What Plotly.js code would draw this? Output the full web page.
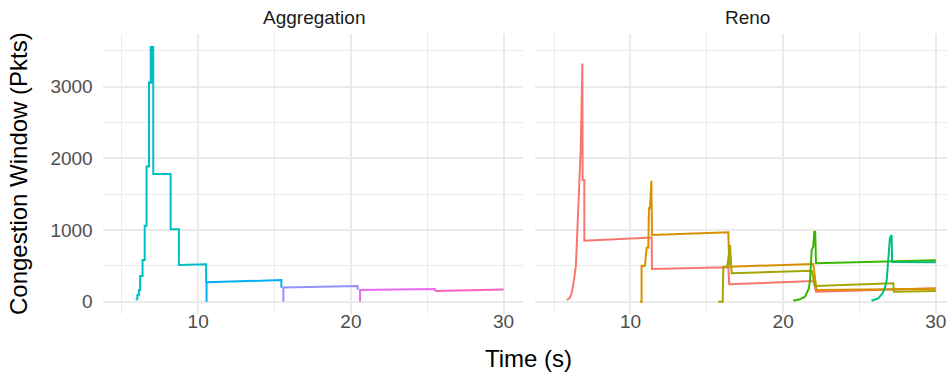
<!DOCTYPE html>
<html>
<head>
<meta charset="utf-8">
<script src="https://cdn.plot.ly/plotly-3.0.1.min.js"></script>
<style>html,body{margin:0;padding:0;background:#fff;}#chart{width:947px;height:377px;}</style>
</head>
<body>
<div id="chart"></div>
<script>
// ---------- Data (time in s, congestion window in packets) ----------
const panels = ["Aggregation", "Reno"];
const xTickVals = [10, 20, 30];
const yTickVals = [0, 1000, 2000, 3000];

// Aggregation panel flows
const agg1Time = [5.92, 6.02, 6.02, 6.12, 6.12, 6.2, 6.2, 6.36, 6.36, 6.5, 6.5, 6.62, 6.62, 6.78, 6.78, 6.89, 6.89, 6.95, 6.95, 6.98, 6.98, 7.06, 7.06, 8.2, 8.2, 8.74, 8.74, 10.52, 10.52];
const agg1Cwnd = [25, 40, 93, 93, 163, 163, 358, 358, 580, 580, 1060, 1060, 1885, 1885, 3060, 3060, 3550, 3550, 3050, 3050, 3550, 3550, 1780, 1780, 1010, 1010, 511, 523, 270];
const agg2Time = [10.55, 10.55, 15.45, 15.45];
const agg2Cwnd = [0, 270, 302, 195];
const agg3Time = [15.58, 15.58, 20.45, 20.45];
const agg3Cwnd = [0, 197, 219, 165];
const agg4Time = [20.6, 20.6, 25.5, 25.5];
const agg4Cwnd = [0, 163, 178, 150];
const agg5Time = [25.52, 30];
const agg5Cwnd = [150, 170];

// Reno panel flows
const reno1Time = [5.82, 6.0, 6.15, 6.22, 6.3, 6.43, 6.55, 6.65, 6.74, 6.81, 6.85, 6.87, 6.98, 6.98, 11.39, 11.41, 16.41, 16.47, 21.98, 22.15, 30];
const reno1Cwnd = [24, 47, 117, 187, 302, 511, 1093, 1697, 2115, 2812, 3320, 1697, 1697, 850, 895, 456, 480, 243, 289, 139, 187];
const reno2Time = [10.62, 10.73, 10.73, 10.95, 11.06, 11.17, 11.21, 11.28, 11.37, 11.41, 16.41, 16.47, 21.97, 22.19, 30];
const reno2Cwnd = [0, 0, 502, 502, 753, 753, 1302, 1302, 1687, 930, 968, 488, 526, 163, 181];
const reno3Time = [15.75, 16.04, 16.08, 16.3, 16.36, 16.52, 16.63, 21.87, 22.08, 27.21, 27.25, 30];
const reno3Cwnd = [0, 0, 488, 488, 520, 791, 396, 432, 219, 257, 139, 149];
const reno4Time = [20.66, 21.1, 21.43, 21.6, 21.69, 21.76, 21.82, 21.87, 21.97, 22.04, 22.1, 22.15, 30];
const reno4Cwnd = [14, 33, 70, 139, 187, 303, 535, 721, 767, 976, 976, 535, 577];
const reno5Time = [25.79, 26.23, 26.51, 26.67, 26.78, 26.84, 26.93, 26.99, 27.1, 27.14, 30];
const reno5Cwnd = [14, 47, 117, 200, 303, 488, 721, 884, 930, 555, 550];

// ---------- Styling ----------
const hue = ["#F8766D", "#D89000", "#A3A500", "#39B600", "#00BF7D",
             "#00BFC4", "#00B0F6", "#9590FF", "#E76BF3", "#FF62BC"];

const renoSeries = [[reno1Time, reno1Cwnd], [reno2Time, reno2Cwnd], [reno3Time, reno3Cwnd], [reno4Time, reno4Cwnd], [reno5Time, reno5Cwnd]];
const aggSeries = [[agg1Time, agg1Cwnd], [agg2Time, agg2Cwnd], [agg3Time, agg3Cwnd], [agg4Time, agg4Cwnd], [agg5Time, agg5Cwnd]];

const traces = [];
aggSeries.forEach((s, i) => traces.push({
  x: s[0], y: s[1], xaxis: "x", yaxis: "y", type: "scatter", mode: "lines",
  line: {color: hue[5 + i], width: 2}, hoverinfo: "skip"
}));
renoSeries.forEach((s, i) => traces.push({
  x: s[0], y: s[1], xaxis: "x2", yaxis: "y2", type: "scatter", mode: "lines",
  line: {color: hue[i], width: 2}, hoverinfo: "skip"
}));

const W = 947, H = 377;
const grid = "#EBEBEB";
const tickFont = {family: "Liberation Sans, Arial, sans-serif", size: 19, color: "#4D4D4D"};

function xAxis(domain, range, anchor) {
  return {
    domain: domain, range: range, anchor: anchor,
    tickmode: "array", tickvals: xTickVals,
    showgrid: true, gridcolor: grid, gridwidth: 2,
    minor: {dtick: 5, tick0: 0, showgrid: true, gridcolor: grid, gridwidth: 1, ticks: ""},
    zeroline: false, showline: false, ticks: "",
    tickfont: tickFont, ticklabelstandoff: -6, fixedrange: true
  };
}
function yAxis(anchor, showLabels) {
  return {
    domain: [(H - 314.4) / H, (H - 34) / H], range: [-177, 3733], anchor: anchor,
    tickmode: "array", tickvals: yTickVals,
    showgrid: true, gridcolor: grid, gridwidth: 2,
    minor: {dtick: 500, tick0: 0, showgrid: true, gridcolor: grid, gridwidth: 1, ticks: ""},
    zeroline: false, showline: false, ticks: "",
    showticklabels: showLabels, tickfont: tickFont, ticklabelstandoff: 9, fixedrange: true
  };
}

const layout = {
  width: W, height: H,
  margin: {l: 0, r: 0, t: 0, b: 0, pad: 0},
  paper_bgcolor: "#FFFFFF", plot_bgcolor: "#FFFFFF",
  showlegend: false,
  font: {family: "Liberation Sans, Arial, sans-serif"},
  xaxis: xAxis([102.7 / W, 522.7 / W], [3.75, 31.25], "y"),
  xaxis2: xAxis([535 / W, 1], [3.75, 30.73], "y2"),
  yaxis: yAxis("x", true),
  yaxis2: yAxis("x2", false),
  annotations: [
    {text: panels[0], x: 314 / W, y: 1 - 17 / H, xref: "paper", yref: "paper", showarrow: false,
     xanchor: "center", yanchor: "middle", font: {size: 19, color: "#1A1A1A"}},
    {text: panels[1], x: 747 / W, y: 1 - 17 / H, xref: "paper", yref: "paper", showarrow: false,
     xanchor: "center", yanchor: "middle", font: {size: 19, color: "#1A1A1A"}},
    {text: "Time (s)", x: 528 / W, y: 1 - 358 / H, xref: "paper", yref: "paper", showarrow: false,
     xanchor: "center", yanchor: "middle", font: {size: 24, color: "#000000"}},
    {text: "Congestion Window (Pkts)", x: 18 / W, y: 1 - 174 / H, xref: "paper", yref: "paper", showarrow: false,
     textangle: -90, xanchor: "center", yanchor: "middle", font: {size: 24, color: "#000000"}}
  ]
};

Plotly.newPlot("chart", traces, layout, {displayModeBar: false, staticPlot: true});
</script>
</body>
</html>
